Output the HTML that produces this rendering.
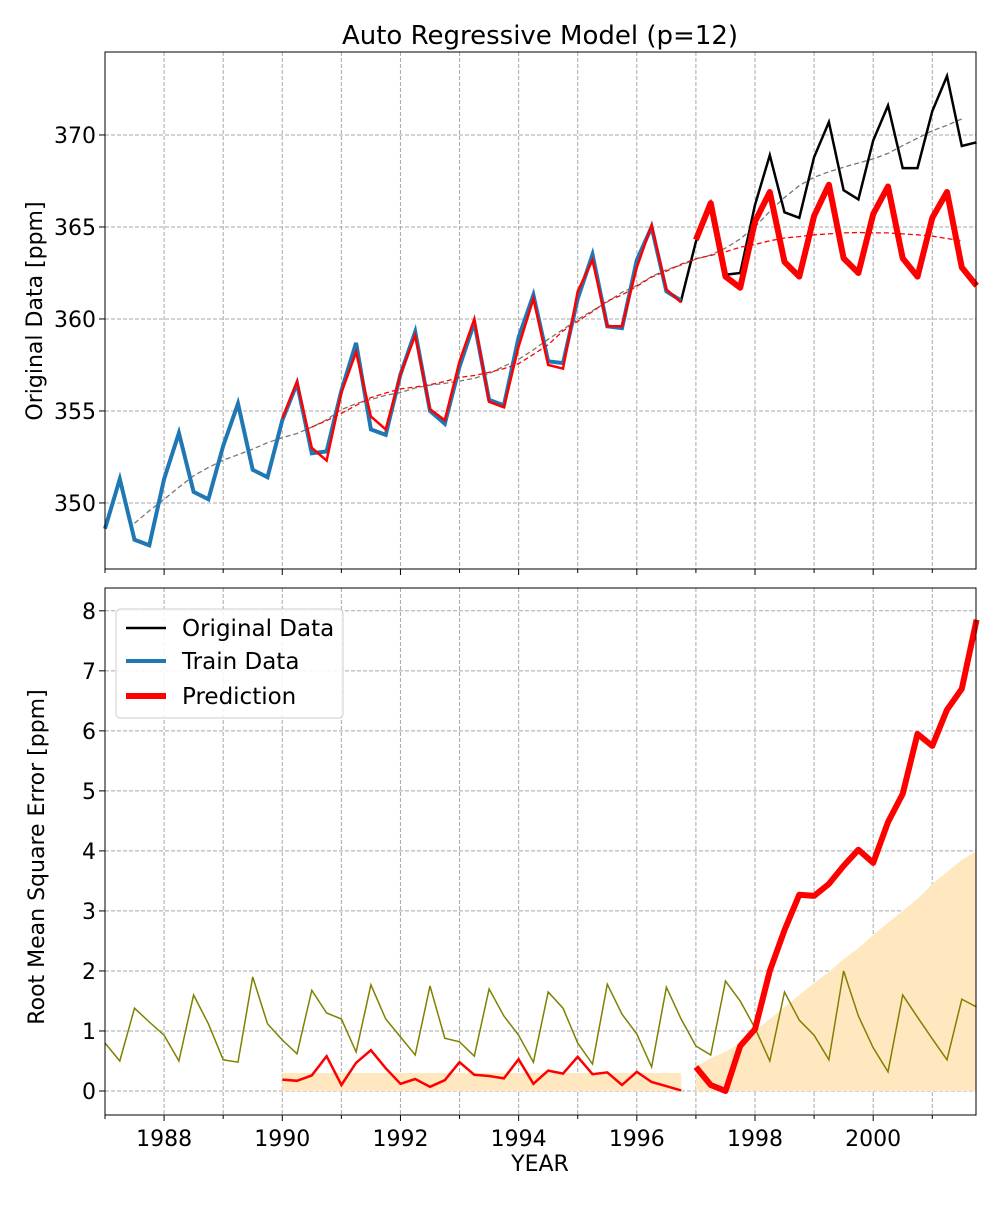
<!DOCTYPE html>
<html><head><meta charset="utf-8"><style>
body{margin:0;background:#fff;}
svg text{font-family:"DejaVu Sans","Liberation Sans",sans-serif;fill:#000;}
</style></head><body>
<svg id="chart" width="1000" height="1200" xmlns="http://www.w3.org/2000/svg"></svg>
<script>
const trainYears0 = 1987.0;
const trainData = [348.6,351.3,348.0,347.7,351.3,353.8,350.6,350.2,353.1,355.4,351.8,351.4,354.5,356.5,352.7,352.8,356.1,358.7,354.0,353.7,357.0,359.3,355.0,354.3,357.4,359.8,355.6,355.3,359.0,361.3,357.7,357.6,361.1,363.5,359.6,359.5,363.2,365.0,361.5,361.0];
const testData = [364.2,366.3,362.4,362.5,366.2,368.9,365.8,365.5,368.8,370.7,367.0,366.5,369.7,371.6,368.2,368.2,371.3,373.2,369.4,369.6];
const fitStart = 1990.0;
const fitPred = [354.6,356.6,353.0,352.3,356.0,358.2,354.7,354.0,357.0,359.1,355.1,354.5,357.7,360.0,355.5,355.2,358.5,361.1,357.5,357.3,361.5,363.2,359.6,359.6,362.8,365.1,361.6,360.9];
const forecastStart = 1997.0;
const forecast = [364.3,366.3,362.3,361.7,365.3,366.9,363.1,362.3,365.6,367.3,363.3,362.5,365.7,367.2,363.3,362.3,365.5,366.9,362.8,361.8];
const olive = [0.8,0.5,1.38,1.15,0.93,0.5,1.6,1.12,0.52,0.48,1.9,1.12,0.85,0.62,1.68,1.3,1.2,0.65,1.77,1.2,0.9,0.6,1.75,0.88,0.82,0.58,1.7,1.25,0.93,0.48,1.65,1.38,0.8,0.45,1.78,1.28,0.95,0.4,1.73,1.2,0.75,0.6,1.83,1.5,1.05,0.5,1.65,1.18,0.93,0.52,2.0,1.25,0.72,0.32,1.6,1.23,0.87,0.52,1.53,1.4];
const fitRmse = [0.19,0.17,0.26,0.58,0.1,0.47,0.68,0.38,0.12,0.2,0.07,0.18,0.48,0.27,0.25,0.21,0.53,0.12,0.34,0.29,0.57,0.28,0.31,0.1,0.32,0.15,0.08,0.01];
const fitBand = 0.3;
const forecastRmse = [0.4,0.1,0.0,0.75,1.03,2.0,2.68,3.27,3.25,3.45,3.75,4.02,3.8,4.48,4.95,5.95,5.75,6.35,6.7,7.85];
const forecastBand = [0.4,0.55,0.65,0.8,1.0,1.2,1.4,1.6,1.8,1.98,2.2,2.38,2.6,2.8,3.0,3.2,3.45,3.65,3.85,4.0];
const topTicks = [350,355,360,365,370];
const botTicks = [0,1,2,3,4,5,6,7,8];
const xTicks = [1988,1990,1992,1994,1996,1998,2000];

const NS="http://www.w3.org/2000/svg";
const svg=document.getElementById('chart');
const L=105,R=976,X0=1987,X1=2001.74;
const sx=v=>L+(v-X0)/(X1-X0)*(R-L);
const T={top:52,bot:569,min:346.41,max:374.51};
const B={top:588,bot:1115,min:-0.4,max:8.38};
const sy=(a,v)=>a.bot-(v-a.min)/(a.max-a.min)*(a.bot-a.top);
function el(tag,attrs,name,parent){const e=document.createElementNS(NS,tag);for(const k in attrs)e.setAttribute(k,attrs[k]);


(parent||svg).appendChild(e);return e;}
const yr=(s,i)=>s+i*0.25;
function pts(a,start,arr){return arr.map((v,i)=>sx(yr(start,i)).toFixed(1)+','+sy(a,v).toFixed(1)).join(' ');}
function roll(arr){const o=[];for(let i=2;i<=arr.length-2;i++){o.push((arr[i-2]+arr[i-1]+arr[i]+arr[i+1])/4);}return o;}

[T,B].forEach((a,k)=>{
  const g=el('g',{},k?'rmse-panel':'data-panel');
  for(let y=1987;y<=2001;y++){el('line',{x1:sx(y),x2:sx(y),y1:a.top,y2:a.bot,stroke:'#a8a8a8','stroke-dasharray':'4,2','stroke-width':1},'x-grid-line',g);}
  const ticks=k?botTicks:topTicks;
  ticks.forEach(t=>{const y=sy(a,t);
    el('line',{x1:L,x2:R,y1:y,y2:y,stroke:'#a8a8a8','stroke-dasharray':'4,2','stroke-width':1},'y-grid-line',g);
    el('line',{x1:L-6,x2:L,y1:y,y2:y,stroke:'#000'},'y-tick',g);
    const tx=el('text',{x:L-9,y:y+8,'text-anchor':'end','font-size':22},'y-tick-label',g);tx.textContent=t;});
  for(let y=1987;y<=2001;y++){el('line',{x1:sx(y),x2:sx(y),y1:a.bot,y2:a.bot+(y%2?4:6),stroke:'#000'},'x-tick',g);}
});
const dg=el('g',{},'top-series');
const orig=trainData.concat(testData);
el('polyline',{points:pts(T,trainYears0+0.5,roll(orig)),fill:'none',stroke:'#777','stroke-width':1.3,'stroke-dasharray':'5,3'},'original-rolling-mean',dg);
el('polyline',{points:pts(T,trainYears0,orig),fill:'none',stroke:'#000','stroke-width':2.5},'original-data-line',dg);
el('polyline',{points:pts(T,trainYears0,trainData),fill:'none',stroke:'#1f77b4','stroke-width':4},'train-data-line',dg);
el('polyline',{points:pts(T,fitStart,fitPred),fill:'none',stroke:'#f00','stroke-width':2.5},'fit-prediction-line',dg);
el('polyline',{points:pts(T,fitStart+0.5,roll(fitPred.concat(forecast))),fill:'none',stroke:'#f00','stroke-width':1.3,'stroke-dasharray':'5,3'},'prediction-rolling-mean',dg);
el('polyline',{points:pts(T,forecastStart,forecast),fill:'none',stroke:'#f00','stroke-width':6,'stroke-linejoin':'round'},'forecast-line',dg);
const bg=el('g',{},'bottom-series');
const f0=sx(fitStart),f1=sx(yr(fitStart,fitRmse.length-1));
el('rect',{x:f0,y:sy(B,fitBand),width:f1-f0,height:sy(B,0)-sy(B,fitBand),fill:'#ffe8c0'},'fit-error-band',bg);
let bp=forecastBand.map((v,i)=>sx(yr(forecastStart,i))+','+sy(B,v)).join(' ');
bp+=' '+sx(yr(forecastStart,forecastBand.length-1))+','+sy(B,0)+' '+sx(forecastStart)+','+sy(B,0);
el('polygon',{points:bp,fill:'#ffe8c0'},'forecast-error-band',bg);
el('polyline',{points:pts(B,trainYears0,olive),fill:'none',stroke:'#808000','stroke-width':1.5},'rolling-std-line',bg);
el('polyline',{points:pts(B,fitStart,fitRmse),fill:'none',stroke:'#f00','stroke-width':2.5},'fit-rmse-line',bg);
el('polyline',{points:pts(B,forecastStart,forecastRmse),fill:'none',stroke:'#f00','stroke-width':6,'stroke-linejoin':'round'},'forecast-rmse-line',bg);
[T,B].forEach((a,k)=>el('rect',{x:L,y:a.top,width:R-L,height:a.bot-a.top,fill:'none',stroke:'#000','stroke-width':1},k?'bottom-axes-frame':'top-axes-frame'));
xTicks.forEach(t=>{const tx=el('text',{x:sx(t),y:B.bot+31,'text-anchor':'middle','font-size':22},'x-tick-label');tx.textContent=t;});
let t=el('text',{x:540,y:44,'text-anchor':'middle','font-size':26},'chart-title');t.textContent='Auto Regressive Model (p=12)';
t=el('text',{x:540,y:1171,'text-anchor':'middle','font-size':22},'x-axis-title');t.textContent='YEAR';
t=el('text',{x:0,y:0,'text-anchor':'middle','font-size':22,transform:'translate(42,311) rotate(-90)'},'top-y-axis-title');t.textContent='Original Data [ppm]';
t=el('text',{x:0,y:0,'text-anchor':'middle','font-size':22,transform:'translate(44,857) rotate(-90)'},'bottom-y-axis-title');t.textContent='Root Mean Square Error [ppm]';
const lg=el('g',{},'legend');
el('rect',{x:116,y:609,width:227,height:109,rx:4,fill:'#fff','fill-opacity':0.85,stroke:'#ccc'},'legend-box',lg);
[['Original Data','#000',2.5,628],['Train Data','#1f77b4',4,661],['Prediction','#f00',6,696]].forEach(e=>{
  const g=el('g',{},'legend-entry',lg);
  el('line',{x1:126,x2:166,y1:e[3],y2:e[3],stroke:e[1],'stroke-width':e[2]},'legend-swatch',g);
  const tx=el('text',{x:182,y:e[3]+8,'font-size':23},'legend-label',g);tx.textContent=e[0];});
</script>
</body></html>
